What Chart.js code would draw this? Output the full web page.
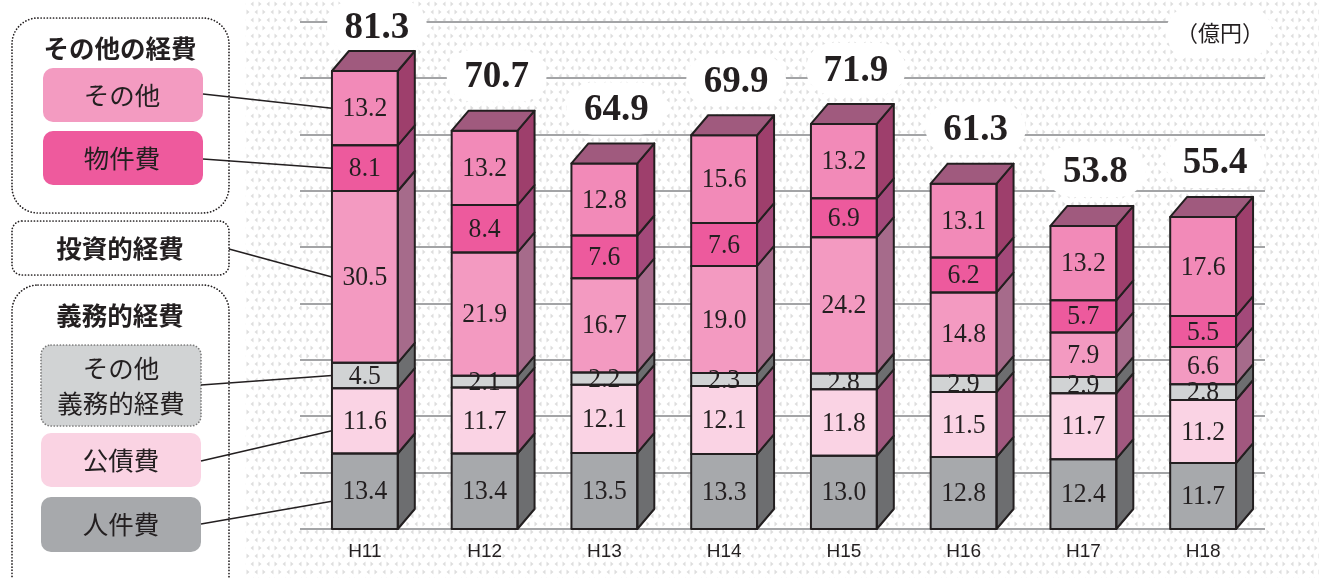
<!DOCTYPE html>
<html><head><meta charset="utf-8">
<script src="https://cdn.jsdelivr.net/npm/chart.js@4/dist/chart.umd.min.js"></script>
<style>html,body{margin:0;padding:0;background:#fff;}canvas{display:block;}</style>
</head><body>
<canvas id="c" width="1319" height="578"></canvas>
<script>
// ---- data ----
const categories = ['H11','H12','H13','H14','H15','H16','H17','H18'];
const personnel      = [13.4, 13.4, 13.5, 13.3, 13.0, 12.8, 12.4, 11.7]; // 人件費
const publicDebt     = [11.6, 11.7, 12.1, 12.1, 11.8, 11.5, 11.7, 11.2]; // 公債費
const otherMandatory = [4.5, 2.1, 2.2, 2.3, 2.8, 2.9, 2.9, 2.8];         // その他義務的経費
const investment     = [30.5, 21.9, 16.7, 19.0, 24.2, 14.8, 7.9, 6.6];  // 投資的経費
const goods          = [8.1, 8.4, 7.6, 7.6, 6.9, 6.2, 5.7, 5.5];         // 物件費
const others         = [13.2, 13.2, 12.8, 15.6, 13.2, 13.1, 13.2, 17.6]; // その他
const totals         = [81.3, 70.7, 64.9, 69.9, 71.9, 61.3, 53.8, 55.4];
const seriesNames = ['人件費','公債費','その他義務的経費','投資的経費','物件費','その他'];
const yTicks = [0,10,20,30,40,50,60,70,80,90];
const unitLabel = '（億円）';

const seriesData = [personnel, publicDebt, otherMandatory, investment, goods, others];
const frontColors = ['#a7a9ac','#fad3e4','#d1d3d4','#f39ac1','#ed5a9d','#f28ab8'];
const sideColors  = ['#6d6e70','#a1587f','#6d6e70','#a66b8b','#a3497a','#9e3f6c'];
const topColor = '#a05a7e';
const INK = '#231f20';
const DX = 17, DY = 20;

// background pattern tile
const tile = document.createElement('canvas'); tile.width = 16; tile.height = 16;
(function(){
  const t = tile.getContext('2d'); t.fillStyle = '#dedede';
  function tri(x,y,dir){ t.beginPath();
    if(dir>0){t.moveTo(x-1.5,y-2.5);t.lineTo(x+1.5,y);t.lineTo(x-1.5,y+2.5);}
    else {t.moveTo(x+1.5,y-2.5);t.lineTo(x-1.5,y);t.lineTo(x+1.5,y+2.5);}
    t.closePath(); t.fill(); }
  tri(4,4,1); tri(12,4,-1); tri(0,12,-1); tri(16,12,-1); tri(8,12,1);
})();

function rr(ctx,x,y,w,h,r){ ctx.beginPath(); ctx.roundRect(x,y,w,h,r); }

function dotted(ctx,color){ ctx.setLineDash([0.1,3]); ctx.lineCap='round'; ctx.lineWidth=1.7; ctx.strokeStyle=color; ctx.stroke(); ctx.setLineDash([]); ctx.lineCap='butt'; }

const jp = '"Noto Sans CJK JP"';

function drawLegend(ctx){
  ctx.save();
  ctx.textAlign='center'; ctx.textBaseline='middle';
  // group 1
  rr(ctx,12,18,217,195,26); ctx.fillStyle='#fff'; ctx.fill(); dotted(ctx,INK);
  ctx.fillStyle=INK; ctx.font='bold 25.5px '+jp; ctx.fillText('その他の経費',120,48);
  rr(ctx,43,68,160,54,10); ctx.fillStyle='#f39bc1'; ctx.fill();
  ctx.fillStyle=INK; ctx.font='25.5px '+jp; ctx.fillText('その他',122,95);
  rr(ctx,43,131,160,54,10); ctx.fillStyle='#ee5a9d'; ctx.fill();
  ctx.fillStyle=INK; ctx.fillText('物件費',122,158);
  // group 2
  rr(ctx,12,221,217,54,10); ctx.fillStyle='#fff'; ctx.fill(); dotted(ctx,INK);
  ctx.fillStyle=INK; ctx.font='bold 25.5px '+jp; ctx.fillText('投資的経費',120,248);
  // group 3
  rr(ctx,12,285,217,320,26); ctx.fillStyle='#fff'; ctx.fill(); dotted(ctx,INK);
  ctx.fillStyle=INK; ctx.font='bold 25.5px '+jp; ctx.fillText('義務的経費',120,315);
  rr(ctx,41,345,160,81,10); ctx.fillStyle='#d1d3d4'; ctx.fill(); dotted(ctx,'#7a7a7a');
  ctx.fillStyle=INK; ctx.font='25.5px '+jp; ctx.fillText('その他',121,368); ctx.fillText('義務的経費',121,403);
  rr(ctx,41,433,160,54,10); ctx.fillStyle='#fad3e3'; ctx.fill();
  ctx.fillStyle=INK; ctx.fillText('公債費',121,460);
  rr(ctx,41,497,160,55,10); ctx.fillStyle='#a7a9ac'; ctx.fill();
  ctx.fillStyle=INK; ctx.fillText('人件費',121,524);
  ctx.restore();
}
// legend anchor points (right edge of each legend box), indexed like seriesNames
const legendAnchors = [[201,524],[201,461],[201,385],[229,249],[203,159],[203,94]];

function geo(chart, di, i){
  return chart.getDatasetMeta(di).data[i].getProps(['x','y','base','width'], true);
}
function totalY(chart, i){
  return Math.max(26, chart.scales.y.getPixelForValue(totals[i]) - 55);
}

const bgPlugin = {
  id:'bg',
  beforeDraw(chart){
    const ctx = chart.ctx;
    ctx.save();
    ctx.fillStyle='#fff'; ctx.fillRect(0,0,chart.width,chart.height);
    ctx.fillStyle = ctx.createPattern(tile,'repeat');
    ctx.fillRect(245,0,chart.width-245,chart.height);
    ctx.restore();
  },
  beforeDatasetsDraw(chart){
    const ctx = chart.ctx, y = chart.scales.y, ca = chart.chartArea;
    ctx.save();
    ctx.strokeStyle='#a3a4a6'; ctx.lineWidth=2;
    yTicks.forEach(v=>{ const py = Math.round(y.getPixelForValue(v)); ctx.beginPath(); ctx.moveTo(ca.left-5,py); ctx.lineTo(ca.right+2,py); ctx.stroke(); });
    ctx.fillStyle='#fff';
    categories.forEach((c,i)=>{
      const g = geo(chart, seriesData.length-1, i);
      const ty = totalY(chart, i);
      rr(ctx, g.x+12-50, ty-26, 100, 52, 26); ctx.fill();
    });
    rr(ctx, 1166, 6, 106, 52, 26); ctx.fill();
    drawLegend(ctx);
    ctx.strokeStyle=INK; ctx.lineWidth=1.6;
    seriesData.forEach((d,di)=>{
      const g = geo(chart, di, 0);
      const a = legendAnchors[di];
      ctx.beginPath(); ctx.moveTo(a[0],a[1]); ctx.lineTo(g.x-g.width/2, (g.y+g.base)/2 + (di<2?10:0)); ctx.stroke();
    });
    ctx.restore();
  },
  afterDatasetsDraw(chart){
    const ctx = chart.ctx;
    ctx.save();
    ctx.lineWidth=2; ctx.strokeStyle=INK; ctx.lineJoin='round';
    categories.forEach((c,i)=>{
      seriesData.forEach((d,di)=>{
        const g = geo(chart, di, i);
        const L = g.x-g.width/2, R = g.x+g.width/2, T = g.y, B = g.base;
        ctx.beginPath(); ctx.moveTo(R,B); ctx.lineTo(R,T); ctx.lineTo(R+DX,T-DY); ctx.lineTo(R+DX,B-DY); ctx.closePath();
        ctx.fillStyle = sideColors[di]; ctx.fill(); ctx.stroke();
        ctx.strokeRect(L,T,R-L,B-T);
        if(di===seriesData.length-1){
          ctx.beginPath(); ctx.moveTo(L,T); ctx.lineTo(L+DX,T-DY); ctx.lineTo(R+DX,T-DY); ctx.lineTo(R,T); ctx.closePath();
          ctx.fillStyle=topColor; ctx.fill(); ctx.stroke();
        }
      });
    });
    ctx.fillStyle=INK; ctx.textAlign='center'; ctx.textBaseline='middle';
    ctx.font='27px "Liberation Serif"';
    categories.forEach((c,i)=>{
      seriesData.forEach((d,di)=>{
        const g = geo(chart, di, i);
        ctx.save(); ctx.translate(g.x, (g.y+g.base)/2+1); ctx.scale(0.95,1);
        ctx.fillText(d[i].toFixed(1), 0, 0); ctx.restore();
      });
    });
    ctx.font='bold 37px "Liberation Serif"';
    categories.forEach((c,i)=>{
      const g = geo(chart, seriesData.length-1, i);
      ctx.fillText(totals[i].toFixed(1), g.x+12, totalY(chart, i) + 2);
    });
    ctx.font='22px '+jp; ctx.fillText(unitLabel, 1220, 33);
    ctx.restore();
  }
};

new Chart(document.getElementById('c'), {
  type:'bar',
  data:{ labels:categories,
    datasets: seriesNames.map((n,i)=>({ label:n, data:seriesData[i], backgroundColor:frontColors[i],
      borderWidth:0, barPercentage:0.55, categoryPercentage:1 })) },
  options:{
    responsive:false, animation:false, devicePixelRatio:1,
    layout:{ padding:{ left:305, right:56, top:22, bottom:0 } },
    plugins:{ legend:{display:false}, tooltip:{enabled:false} },
    scales:{
      x:{ stacked:true, grid:{display:false}, border:{display:false},
          ticks:{ font:{family:'Liberation Sans', size:19}, color:INK, padding:3 },
          afterFit(s){ s.height = 49; } },
      y:{ stacked:true, display:false, min:0, max:90 }
    }
  },
  plugins:[bgPlugin]
});
</script>
</body></html>
